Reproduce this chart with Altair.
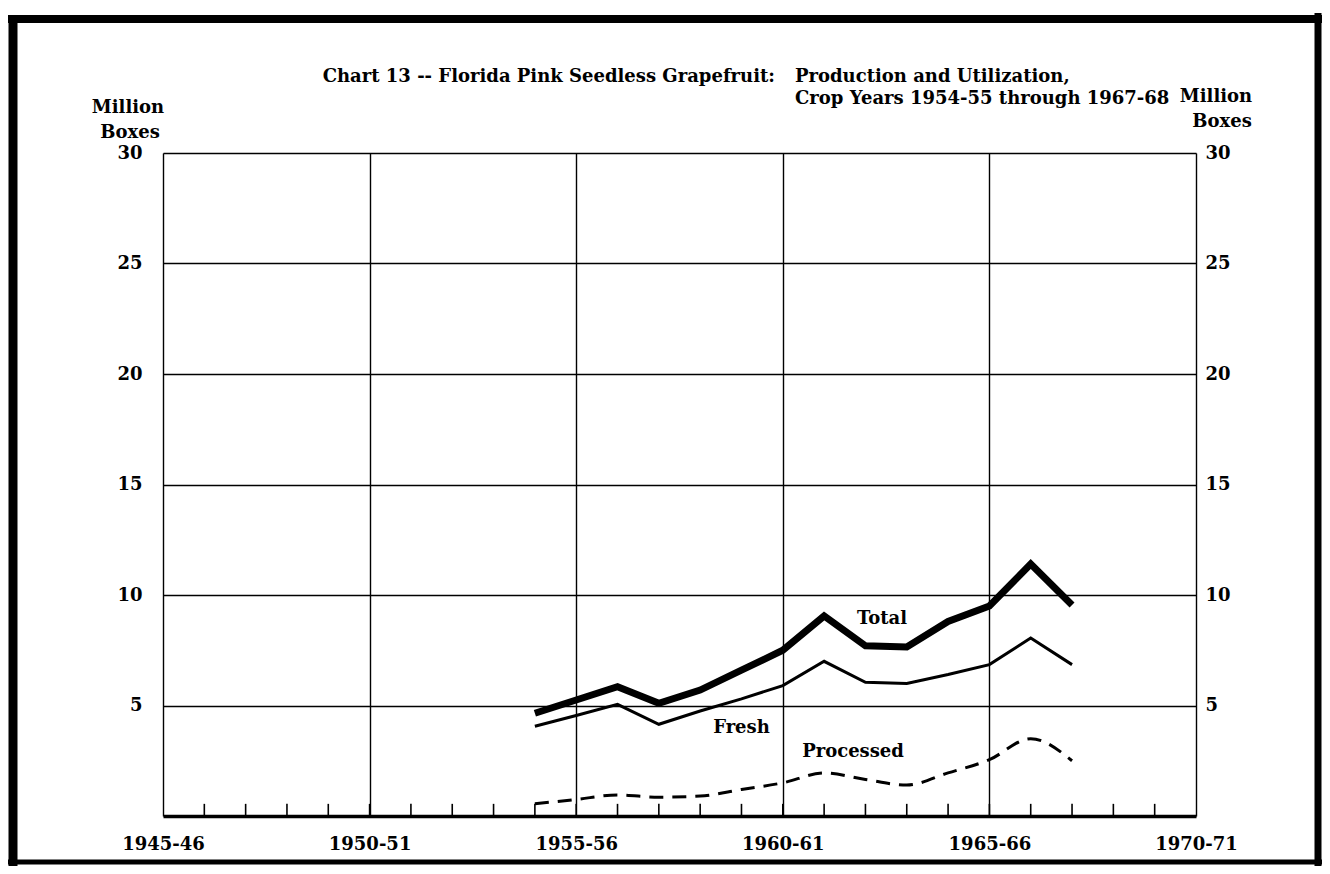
import altair as alt
import pandas as pd

# ---------------- data ----------------
crop_years = list(range(1954, 1968))  # 1954-55 ... 1967-68 (start year)
total = [4.65, 5.25, 5.85, 5.1, 5.7, 6.6, 7.5, 9.05, 7.7, 7.65, 8.8, 9.5, 11.4, 9.55]
fresh = [4.06, 4.55, 5.05, 4.15, 4.75, 5.3, 5.9, 7.0, 6.05, 6.0, 6.4, 6.85, 8.05, 6.85]
processed = [0.55, 0.75, 0.95, 0.85, 0.9, 1.2, 1.5, 1.95, 1.65, 1.4, 1.95, 2.55, 3.5, 2.5]

axis_years = [1945, 1950, 1955, 1960, 1965, 1970]
minor_years = list(range(1946, 1970))
y_values = [5, 10, 15, 20, 25, 30]

series_names = ["Total", "Fresh", "Processed"]
label_year = [1962.4, 1959.0, 1961.7]
label_value = [8.9, 4.0, 2.9]

title_left = "Chart 13 -- Florida Pink Seedless Grapefruit:"
title_right1 = "Production and Utilization,"
title_right2 = "Crop Years 1954-55 through 1967-68"
unit_lines = ["Million", "Boxes"]

# ---------------- layout ----------------
FONT = "DejaVu Serif"
FS = 18
FW = "bold"
W, H = 1033, 663

df = pd.DataFrame({"year": crop_years, "Total": total, "Fresh": fresh, "Processed": processed})
ticks_df = pd.DataFrame({"year": minor_years, "y0": [0.0] * len(minor_years), "y1": [0.55] * len(minor_years)})
yv_df = pd.DataFrame({"v": y_values})
lab_df = pd.DataFrame({"name": series_names, "year": label_year, "value": label_value})

x_scale = alt.Scale(domain=[1945, 1970], nice=False, zero=False)
y_scale = alt.Scale(domain=[0, 30], nice=False)

x_axis = alt.Axis(
    values=axis_years,
    labelExpr="toString(datum.value) + '-' + substring(toString(datum.value + 1), 2)",
    title=None, grid=True, ticks=False, domain=True, domainWidth=3.5, domainColor="black",
    gridColor="black", gridWidth=1.4, gridOpacity=1, labelPadding=19, labelFlush=False,
    labelOverlap=False, labelFont=FONT, labelFontSize=FS, labelFontWeight=FW, labelColor="black",
)
left_axis = alt.Axis(
    values=y_values, orient="left", title=None, grid=True, ticks=False, domain=False,
    gridColor="black", gridWidth=1.4, gridOpacity=1, labelPadding=21, labelFont=FONT,
    labelFontSize=FS, labelFontWeight=FW, labelColor="black", labelOverlap=False, labelFlush=False,
)
right_axis = alt.Axis(
    values=y_values, orient="right", title=None, grid=False, ticks=False, domain=False,
    labelPadding=9, labelFont=FONT, labelFontSize=FS, labelFontWeight=FW, labelColor="black",
    labelOverlap=False, labelFlush=False,
)

X = alt.X("year:Q", scale=x_scale, axis=x_axis)

ticks = alt.Chart(ticks_df).mark_rule(color="black", strokeWidth=1.6).encode(
    x=X, y=alt.Y("y0:Q", scale=y_scale, axis=left_axis), y2="y1:Q"
)
right = alt.Chart(yv_df).mark_point(opacity=0).encode(
    y=alt.Y("v:Q", scale=y_scale, axis=right_axis)
)

def series(col, width, dash=None, interp="linear"):
    kw = dict(color="black", strokeWidth=width, interpolate=interp, strokeCap="butt", strokeJoin="miter")
    if dash:
        kw["strokeDash"] = dash
    return alt.Chart(df).mark_line(**kw).encode(
        x=X, y=alt.Y(f"{col}:Q", scale=y_scale, axis=None)
    )

l_total = series("Total", 7)
l_fresh = series("Fresh", 3)
l_proc = series("Processed", 3, dash=[14, 9], interp="monotone")

labels = alt.Chart(lab_df).mark_text(font=FONT, fontSize=FS, fontWeight=FW, color="black").encode(
    x=X, y=alt.Y("value:Q", scale=y_scale, axis=None), text="name:N"
)

one = alt.Data(values=[{}])

def txt(s, x, y, align="left"):
    return alt.Chart(one).mark_text(font=FONT, fontSize=FS, fontWeight=FW, color="black",
                                    align=align, baseline="middle").encode(
        x=alt.value(x), y=alt.value(y), text=alt.value(s)
    )

texts = [
    txt(title_left, 612, -76, "right"),
    txt(title_right1, 632, -76),
    txt(title_right2, 632, -54),
    txt(unit_lines[0], -35, -45, "center"),
    txt(unit_lines[1], -33, -20, "center"),
    txt(unit_lines[0], 1053, -56, "center"),
    txt(unit_lines[1], 1059, -31, "center"),
]

def rule(x, x2, y, y2, w):
    return alt.Chart(one).mark_rule(color="black", strokeWidth=w).encode(
        x=alt.value(x), x2=alt.value(x2), y=alt.value(y), y2=alt.value(y2)
    )

frame = [
    rule(-155, 1159, -134, -134, 8),
    rule(-150, -150, -138, 713, 9),
    rule(1155, 1155, -140, 713, 7),
    rule(-155, 1159, 709, 709, 5),
]

chart = alt.layer(ticks, right, l_fresh, l_proc, l_total, labels, *texts, *frame).resolve_axis(
    y="independent"
).properties(
    width=W, height=H,
    autosize=alt.AutoSizeParams(type="none"),
    padding={"left": 155, "top": 145, "right": 126, "bottom": 50},
).configure_view(stroke="black", strokeWidth=1.5).configure(background="white")

chart.save("out.html", embed_options={"renderer": "svg", "actions": False})
